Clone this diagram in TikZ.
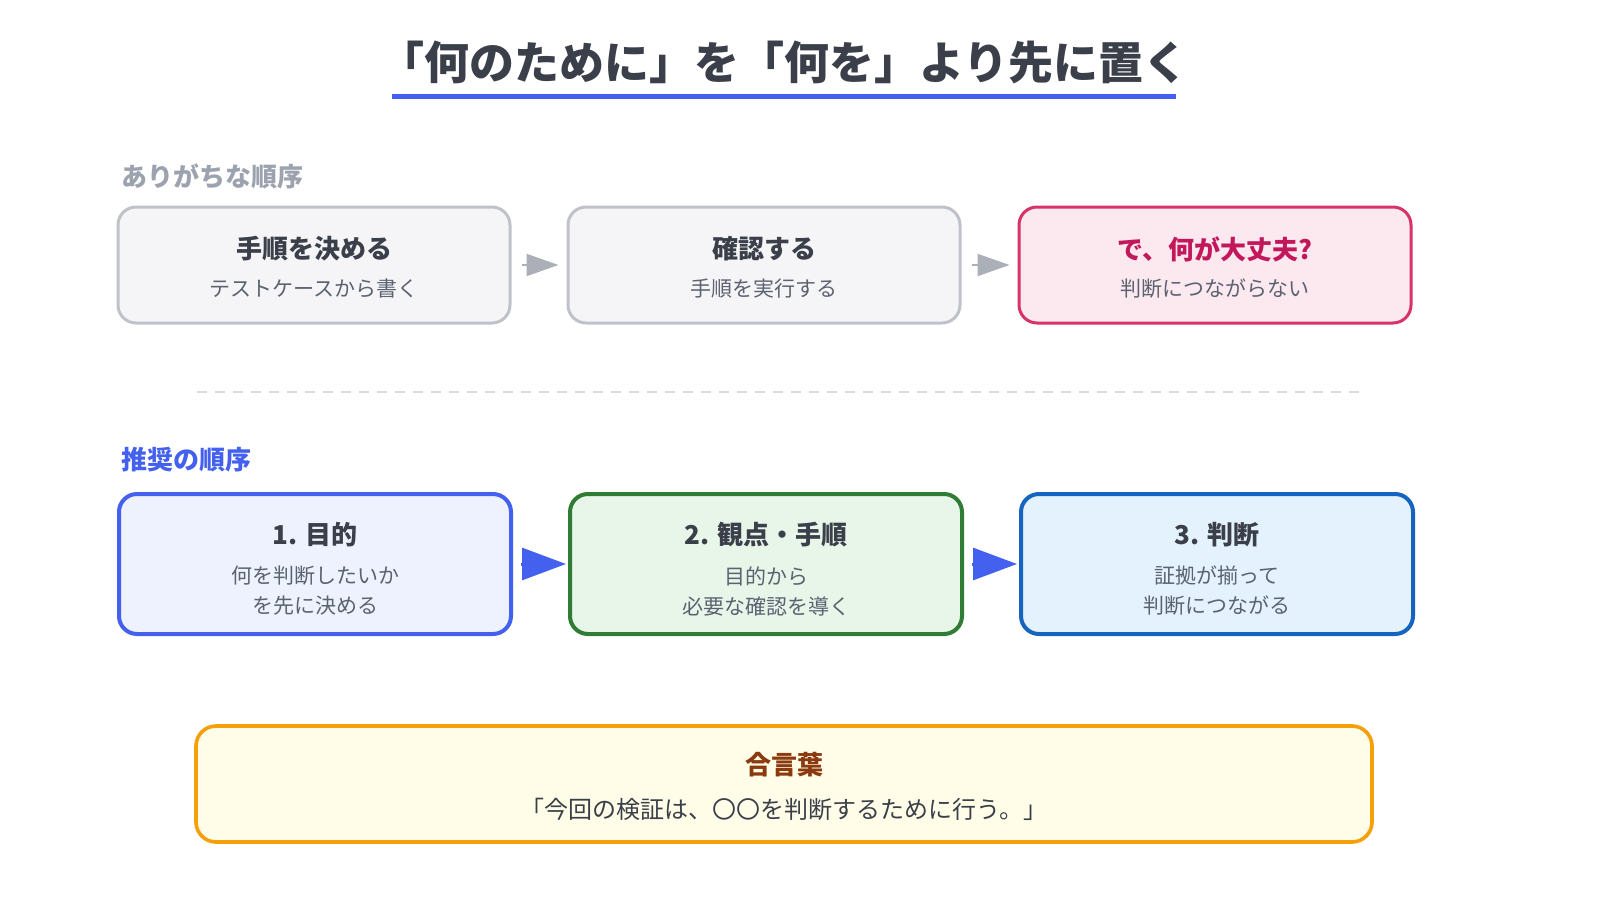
\documentclass[tikz,border=0pt]{standalone}
\usepackage{fontspec}
\setmainfont{Noto Sans CJK JP}
\usetikzlibrary{arrows.meta, positioning}
\definecolor{inkdark}{HTML}{3A3F4A}
\definecolor{inksub}{HTML}{5B6270}
\definecolor{grayfill}{HTML}{F5F5F8}
\definecolor{grayline}{HTML}{BFC2C9}
\definecolor{grayhead}{HTML}{9CA3AF}
\definecolor{pinkfill}{HTML}{FCE8EF}
\definecolor{pinkline}{HTML}{D6336C}
\definecolor{pinkink}{HTML}{C2185B}
\definecolor{bluefill}{HTML}{EEF2FF}
\definecolor{blueline}{HTML}{4361EE}
\definecolor{greenfill}{HTML}{E8F5E9}
\definecolor{greenline}{HTML}{2E7D32}
\definecolor{skyfill}{HTML}{E3F2FD}
\definecolor{skyline}{HTML}{1565C0}
\definecolor{yelfill}{HTML}{FFFDE7}
\definecolor{yelline}{HTML}{F5A00B}
\definecolor{brownink}{HTML}{8B3A0F}

\begin{document}
\begin{tikzpicture}[x=0.5pt, y=-0.5pt,
    stage/.style={rectangle, rounded corners=9pt, minimum width=196pt, align=center},
    oldstep/.style={stage, draw=grayline, fill=grayfill, line width=1.5pt, minimum height=58pt},
    newstep/.style={stage, line width=2pt, minimum height=70pt},
    head/.style={font=\fontsize{13}{16}\selectfont\bfseries, text=inkdark},
    sub/.style={font=\fontsize{10.5}{15}\selectfont, text=inksub, align=center},
    oldarrow/.style={-{Triangle[length=16pt, width=11pt]}, grayline!80!inksub, line width=1pt, dash pattern=on 3pt off 2pt},
    newarrow/.style={-{Triangle[length=22pt, width=16pt]}, blueline, line width=1.5pt},
    section/.style={font=\fontsize{13}{16}\selectfont\bfseries, anchor=west}
]
    \useasboundingbox (0,0) rectangle (1600,920);

    % Title
    \node[font=\fontsize{22.5}{26}\selectfont\bfseries, text=inkdark] (title) at (784, 62) {「何のために」を「何を」より先に置く};
    \draw[blueline, line width=2.5pt] (392, 97) -- (1176, 97);

    % Usual order
    \node[section, text=grayhead] (oldlabel) at (114, 176) {ありがちな順序};
    \node[oldstep] (o1) at (314, 265) {};
    \node[oldstep] (o2) at (764, 265) {};
    \node[oldstep, draw=pinkline, fill=pinkfill] (o3) at (1215, 265) {};
    \node[head] at (314, 249) {手順を決める};
    \node[sub] at (314, 289) {テストケースから書く};
    \node[head] at (764, 249) {確認する};
    \node[sub] at (764, 289) {手順を実行する};
    \node[head, text=pinkink] at (1215, 249) {で、何が大丈夫?};
    \node[sub] at (1215, 289) {判断につながらない};
    \draw[oldarrow] ([xshift=5pt]o1.east) -- ([xshift=-4pt]o2.west);
    \draw[oldarrow] ([xshift=5pt]o2.east) -- ([xshift=-4pt]o3.west);

    % Separator
    \draw[grayline!60, line width=0.8pt, dash pattern=on 5pt off 4pt] (197, 392) -- (1365, 392);

    % Recommended order
    \node[section, text=blueline] (newlabel) at (114, 460) {推奨の順序};
    \node[newstep, draw=blueline, fill=bluefill] (n1) at (315, 564) {};
    \node[newstep, draw=greenline, fill=greenfill] (n2) at (766, 564) {};
    \node[newstep, draw=skyline, fill=skyfill] (n3) at (1217, 564) {};
    \node[head] at (315, 535) {1. 目的};
    \node[sub] at (315, 591) {何を判断したいか\\を先に決める};
    \node[head] at (766, 535) {2. 観点・手順};
    \node[sub] at (766, 591) {目的から\\必要な確認を導く};
    \node[head] at (1217, 535) {3. 判断};
    \node[sub] at (1217, 591) {証拠が揃って\\判断につながる};
    \draw[newarrow] ([xshift=4pt]n1.east) -- ([xshift=-1pt]n2.west);
    \draw[newarrow] ([xshift=4pt]n2.east) -- ([xshift=-1pt]n3.west);

    % Motto
    \node[rectangle, rounded corners=10pt, draw=yelline, fill=yelfill, line width=1.8pt, minimum width=588pt, minimum height=58pt] (motto) at (784, 784) {};
    \node[font=\fontsize{13}{16}\selectfont\bfseries, text=brownink] at (784, 765) {合言葉};
    \node[font=\fontsize{12}{16}\selectfont, text=inkdark] at (784, 809) {「今回の検証は、〇〇を判断するために行う。」};
\end{tikzpicture}
\end{document}
